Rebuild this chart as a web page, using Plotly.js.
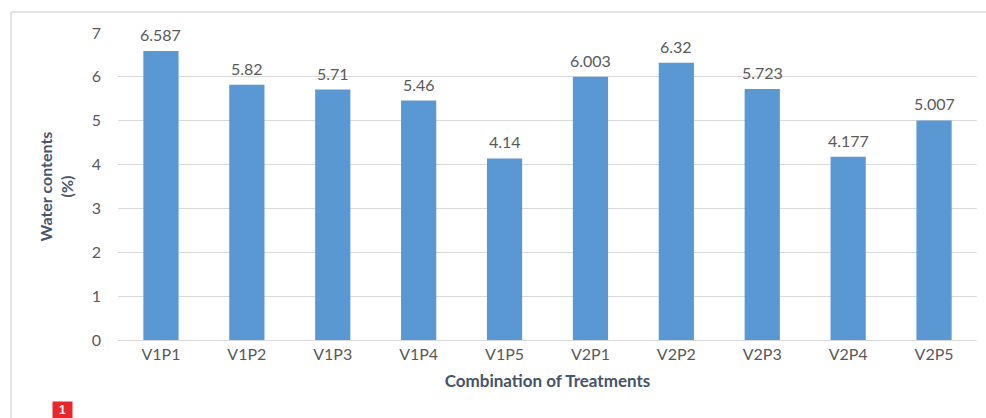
<!DOCTYPE html>
<html>
<head>
<meta charset="utf-8">
<script src="https://cdn.plot.ly/plotly-3.0.1.min.js"></script>
<style>
html,body{margin:0;padding:0;background:#fff;}
#chart{width:986px;height:418px;}
</style>
</head>
<body>
<div id="chart"></div>
<script>
var categories = ["V1P1","V1P2","V1P3","V1P4","V1P5","V2P1","V2P2","V2P3","V2P4","V2P5"];
var waterContents = [6.587, 5.82, 5.71, 5.46, 4.14, 6.003, 6.32, 5.723, 4.177, 5.007];
var yTicks = [0,1,2,3,4,5,6,7];

var FONT = "Lato, 'Noto Sans', sans-serif";
var L = 118, R = 9, T = 33, B = 78, W = 986, H = 418;
var pw = W - L - R, ph = H - T - B;
function px(x){ return (x - L) / pw; }
function py(y){ return (H - B - y) / ph; }

var trace = {
  type: "bar",
  x: categories,
  y: waterContents,
  marker: {color: "#5A98D3"},
  hoverinfo: "x+y"
};

var labelAnns = categories.map(function(c, i){
  return {
    x: c, y: waterContents[i], xref: "x", yref: "y",
    text: String(waterContents[i]),
    showarrow: false, yanchor: "bottom", yshift: 5,
    font: {family: FONT, size: 16, color: "#595959"}
  };
});

var layout = {
  width: W, height: H,
  margin: {l: L, r: R, t: T, b: B, pad: 0},
  paper_bgcolor: "#ffffff",
  plot_bgcolor: "#ffffff",
  showlegend: false,
  bargap: 0.59,
  font: {family: FONT, color: "#595959"},
  xaxis: {
    type: "category",
    tickfont: {family: FONT, size: 16, color: "#595959"},
    ticks: "", showgrid: false, showline: true, linecolor: "#D9D9D9", linewidth: 1,
    title: {text: "<b>Combination of Treatments</b>", font: {family: FONT, size: 17, color: "#44546A"}, standoff: 12}
  },
  yaxis: {
    range: [0, 7],
    tickvals: yTicks,
    ticktext: yTicks.map(String),
    tickfont: {family: FONT, size: 16, color: "#595959"},
    ticks: "", showgrid: true, gridcolor: "#D9D9D9", gridwidth: 1,
    zeroline: false, showline: false,
    ticklabelstandoff: 16,
    title: {text: "<b>Water contents<br>(%)</b>", font: {family: FONT, size: 16, color: "#44546A"}, standoff: 14}
  },
  shapes: [
    {type: "line", xref: "paper", yref: "paper", x0: px(11), x1: px(986), y0: py(12), y1: py(12), line: {color: "#DADADA", width: 1.5}},
    {type: "line", xref: "paper", yref: "paper", x0: px(11), x1: px(11), y0: py(12), y1: py(418), line: {color: "#DADADA", width: 1.5}}
  ],
  annotations: labelAnns.concat([
    {
      xref: "paper", yref: "paper", x: px(63), y: py(401), xanchor: "center", yanchor: "top",
      text: "<b>1</b>", showarrow: false, bgcolor: "#E8262B", width: 17, height: 14, borderpad: 1,
      font: {family: "'Liberation Sans', Arial, sans-serif", size: 12, color: "#ffffff"}
    }
  ])
};

Plotly.newPlot("chart", [trace], layout, {displayModeBar: false, staticPlot: true});
</script>
</body>
</html>
